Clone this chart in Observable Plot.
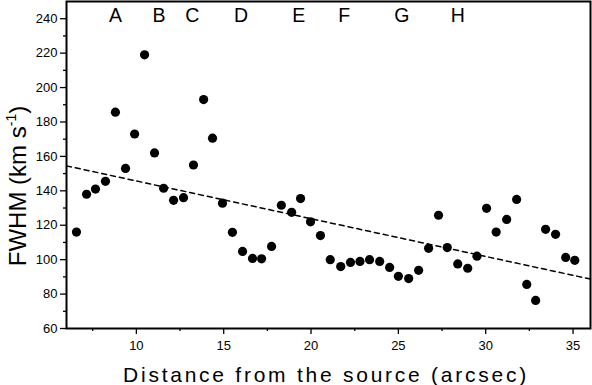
<!DOCTYPE html>
<html>
<head>
<meta charset="utf-8">
<script src="https://cdn.jsdelivr.net/npm/d3@7"></script>
<script src="https://cdn.jsdelivr.net/npm/@observablehq/plot@0.6"></script>
<style>
  html, body { margin: 0; padding: 0; background: #fff; }
  svg { display: block; }
</style>
</head>
<body>
<div id="chart"></div>
<script>
const distance = [6.57, 7.15, 7.66, 8.23, 8.80, 9.38, 9.90, 10.47, 11.04, 11.56, 12.13, 12.70, 13.27, 13.85, 14.36, 14.93, 15.50, 16.08, 16.65, 17.17, 17.74, 18.30, 18.89, 19.40, 19.97, 20.54, 21.10, 21.70, 22.26, 22.80, 23.35, 23.93, 24.50, 25.00, 25.59, 26.16, 26.73, 27.30, 27.80, 28.40, 28.97, 29.50, 30.05, 30.60, 31.20, 31.77, 32.35, 32.86, 33.43, 34.00, 34.58, 35.10];
const fwhm = [116, 138, 141, 145.5, 185.7, 153, 173, 219, 162, 141.5, 134.5, 136, 155, 193, 170.6, 132.8, 115.9, 104.8, 100.7, 100.5, 107.7, 131.6, 127.5, 135.5, 122, 114, 100, 96, 98.4, 99, 100, 99, 95.5, 90.3, 89, 93.8, 106.6, 125.8, 107, 97.5, 95, 102, 129.8, 116, 123.4, 135, 85.6, 76.3, 117.6, 114.7, 101.3, 99.6];
const trendX = [6, 36];
const trendY = [154.5, 88.7];
const regionLabels = ["A", "B", "C", "D", "E", "F", "G", "H"];
const regionX = [8.8, 11.3, 13.2, 16.0, 19.3, 21.9, 25.2, 28.4];
const regionY = 242;
const yTicks = [60, 80, 100, 120, 140, 160, 180, 200, 220, 240];
const yMinor = [70, 90, 110, 130, 150, 170, 190, 210, 230];
const xTicks = [10, 15, 20, 25, 30, 35];
const xMinor = [7.5, 12.5, 17.5, 22.5, 27.5, 32.5];

const points = distance.map((d, i) => ({d, f: fwhm[i]}));
const trend = trendX.map((x, i) => ({x, y: trendY[i]}));
const regions = regionLabels.map((t, i) => ({t, x: regionX[i], y: regionY}));

const font = "Liberation Sans, Arial, Helvetica, sans-serif";

const chart = Plot.plot({
  width: 592,
  height: 385,
  marginLeft: 66,
  marginRight: 2,
  marginTop: 1,
  marginBottom: 57,
  style: {fontFamily: font, fontSize: "13px", color: "#000", background: "#fff"},
  x: {domain: [6, 36]},
  y: {domain: [60, 250]},
  marks: [
    Plot.axisY({ticks: yTicks, tickSize: 6, tickPadding: 3, label: null, fontSize: 13, stroke: "#000", strokeWidth: 1.3}),
    Plot.axisY({ticks: yMinor, tickSize: 3, text: null, label: null, stroke: "#000", strokeWidth: 1.3}),
    Plot.axisX({ticks: xTicks, tickSize: 6, tickPadding: 6, label: null, fontSize: 13, tickFormat: d => String(d), stroke: "#000", strokeWidth: 1.3}),
    Plot.axisX({ticks: xMinor, tickSize: 3, text: null, label: null, stroke: "#000", strokeWidth: 1.3}),
    Plot.frame({stroke: "#000", strokeWidth: 2}),
    Plot.line(trend, {x: "x", y: "y", stroke: "#000", strokeWidth: 1.5, strokeDasharray: "5,4"}),
    Plot.dot(points, {x: "d", y: "f", r: 4.6, fill: "#000", stroke: "none"}),
    Plot.text(regions, {x: "x", y: "y", text: "t", fontSize: 19.5, fill: "#000"})
  ]
});

const svg = d3.select(chart);
// x-axis title
svg.append("text")
  .attr("x", 326).attr("y", 382)
  .attr("text-anchor", "middle")
  .attr("font-family", font)
  .attr("font-size", 21)
  .attr("letter-spacing", "2.75px")
  .attr("fill", "#000")
  .text("Distance from the source (arcsec)");
// y-axis title with superscript
const yt = svg.append("text")
  .attr("transform", "translate(26,186) rotate(-90)")
  .attr("text-anchor", "middle")
  .attr("font-family", font)
  .attr("font-size", 24)
  .attr("fill", "#000");
yt.append("tspan").text("FWHM (km s");
yt.append("tspan").attr("font-size", 14).attr("dy", -10).text("-1");
yt.append("tspan").attr("dy", 10).text(")");

document.getElementById("chart").appendChild(chart);
</script>
</body>
</html>
